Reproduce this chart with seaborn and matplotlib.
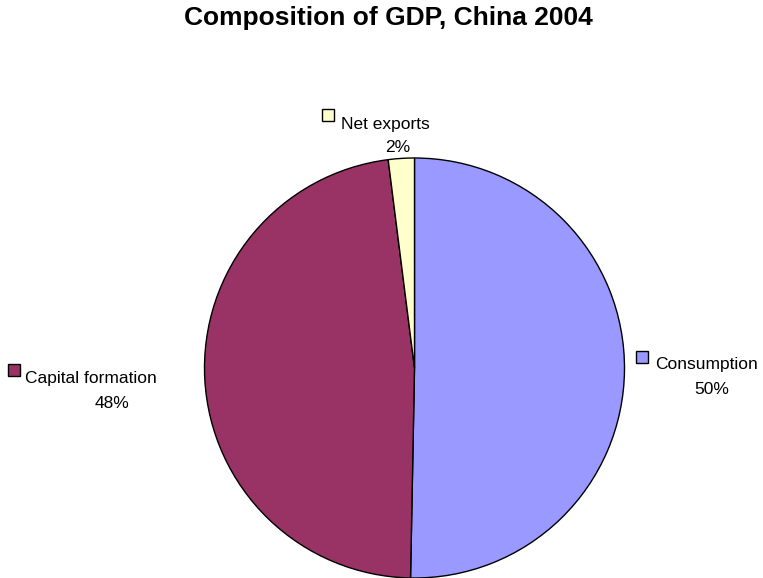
import matplotlib
matplotlib.use("Agg")
import matplotlib.pyplot as plt
import seaborn as sns
from matplotlib.patches import Rectangle

# data
categories = ["Consumption", "Capital formation", "Net exports"]
shares = [50.3, 47.7, 2.0]
colors = ["#9999FF", "#993366", "#FFFFCC"]

sns.set_theme(style="white")
plt.rcParams["font.family"] = ["Liberation Sans", "DejaVu Sans"]
plt.rcParams["text.color"] = "black"

W, H = 763, 578
fig = plt.figure(figsize=(W / 100, H / 100), dpi=100)
fig.patch.set_facecolor("white")

# pie axes: centre ~ (414.5, 368) px, radius ~ 210 px
cx, cy, r = 414.5, 368, 210
ax = fig.add_axes([(cx - r) / W, (H - cy - r) / H, 2 * r / W, 2 * r / H])
ax.pie(shares, colors=colors, startangle=90, counterclock=False,
       wedgeprops={"edgecolor": "black", "linewidth": 1.0})
ax.set_xlim(-1.0, 1.0)
ax.set_ylim(-1.0, 1.0)
ax.set_aspect("equal")
ax.axis("off")

fig.text(388 / W, 1 - 18 / H, "Composition of GDP, China 2004", ha="center",
         va="center", fontsize=19, fontweight="bold", color="black")

# labels: (box x, box y, text x, text y, pct x, pct y) in px from top-left
label_pos = {
    "Consumption": (636, 351, 655, 365, 712, 389),
    "Capital formation": (8, 364, 25, 378, 112, 403),
    "Net exports": (322, 109, 341, 124, 398, 147),
}
total = sum(shares)
for name, val, col in zip(categories, shares, colors):
    bx, by, tx, ty, px, py = label_pos[name]
    fig.patches.append(Rectangle((bx / W, 1 - (by + 12) / H), 12 / W, 12 / H,
                                 transform=fig.transFigure, facecolor=col,
                                 edgecolor="black", linewidth=1.0))
    fig.text(tx / W, 1 - ty / H, name, ha="left", va="center",
             fontsize=12.5, color="black")
    fig.text(px / W, 1 - py / H, f"{val / total * 100:.0f}%", ha="center",
             va="center", fontsize=12.5, color="black")

fig.savefig("out.png", dpi=100, facecolor="white")
